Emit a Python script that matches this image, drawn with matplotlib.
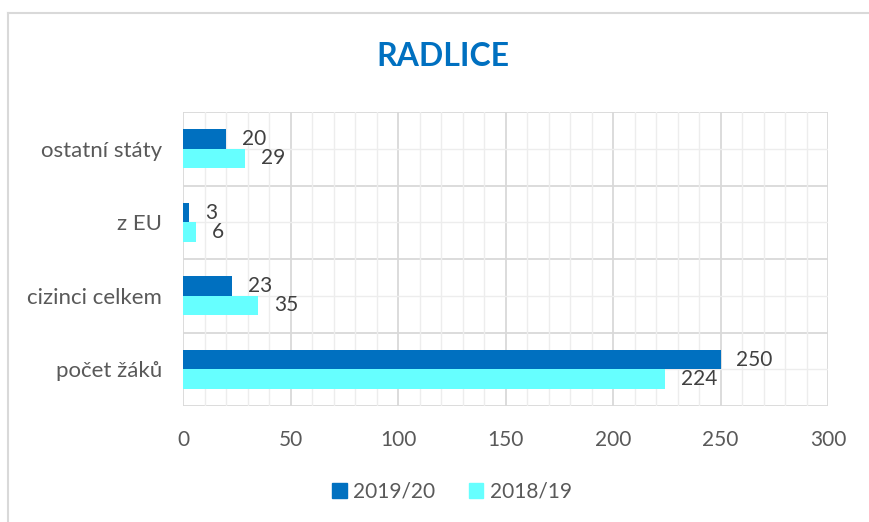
import matplotlib
matplotlib.use("Agg")
import matplotlib.pyplot as plt
from matplotlib.lines import Line2D
from matplotlib.patches import Patch
import numpy as np

categories = ["počet žáků", "cizinci celkem", "z EU", "ostatní státy"]
series_names = ["2019/20", "2018/19"]
values_2019 = [250, 23, 3, 20]
values_2018 = [224, 35, 6, 29]
x_ticks = [0, 50, 100, 150, 200, 250, 300]

c_dark = "#0070C0"
c_light = "#66FFFF"
txt = "#595959"
fs = 15
plt.rcParams["font.family"] = ["Lato", "DejaVu Sans"]

fig = plt.figure(figsize=(8.69, 5.22), dpi=100)
ax = fig.add_axes([183/869, 1-406/522, (828-183)/869, (406-112)/522])

y = np.arange(len(categories))
h = 0.265
b1 = ax.barh(y + h/2, values_2019, height=h, color=c_dark, zorder=3)
b2 = ax.barh(y - h/2, values_2018, height=h, color=c_light, zorder=3)

for bars, vals in ((b1, values_2019), (b2, values_2018)):
    for rect, v in zip(bars, vals):
        ax.annotate(str(v), (rect.get_width(), rect.get_y() + rect.get_height()/2),
                    xytext=(11.5, 0), textcoords="offset points",
                    ha="left", va="center", fontsize=fs, color="#404040")

ax.set_xlim(x_ticks[0], x_ticks[-1])
ax.set_ylim(-0.5, len(categories) - 0.5)
ax.set_xticks(x_ticks)
ax.set_xticks(np.arange(0, 301, 10), minor=True)
ax.set_yticks(y)
ax.set_yticklabels(categories)
ax.tick_params(axis="both", which="both", length=0, colors=txt, labelsize=fs)
ax.tick_params(axis="y", pad=15, labelsize=16)
ax.tick_params(axis="x", pad=17)

ax.grid(axis="x", which="major", color="#D9D9D9", lw=1.3, zorder=1)
ax.grid(axis="x", which="minor", color="#EDEDED", lw=1.0, zorder=0)
ax.grid(axis="y", which="major", color="#EDEDED", lw=1.0, zorder=0)
for b in np.arange(-0.5, len(categories), 1.0):
    ax.axhline(b, color="#D9D9D9", lw=1.3, zorder=1)
for s in ax.spines.values():
    s.set_visible(False)

fig.text(443/869, 1-57/522, "RADLICE", ha="center", va="center",
         fontsize=23, fontweight="bold", color=c_dark)

handles = [Patch(color=c_dark), Patch(color=c_light)]
fig.legend(handles, series_names, loc="center", bbox_to_anchor=(452/869, 1-492/522),
           ncol=2, frameon=False, fontsize=fs, labelcolor=txt,
           handlelength=0.7, handleheight=0.7, handletextpad=0.3, columnspacing=1.6)

fig.add_artist(Line2D([8/869, 8/869], [0, 1-13/522], color="#D9D9D9", lw=1.5))
fig.add_artist(Line2D([8/869, 1], [1-13/522, 1-13/522], color="#D9D9D9", lw=1.5))

fig.savefig("out.png", dpi=100)
